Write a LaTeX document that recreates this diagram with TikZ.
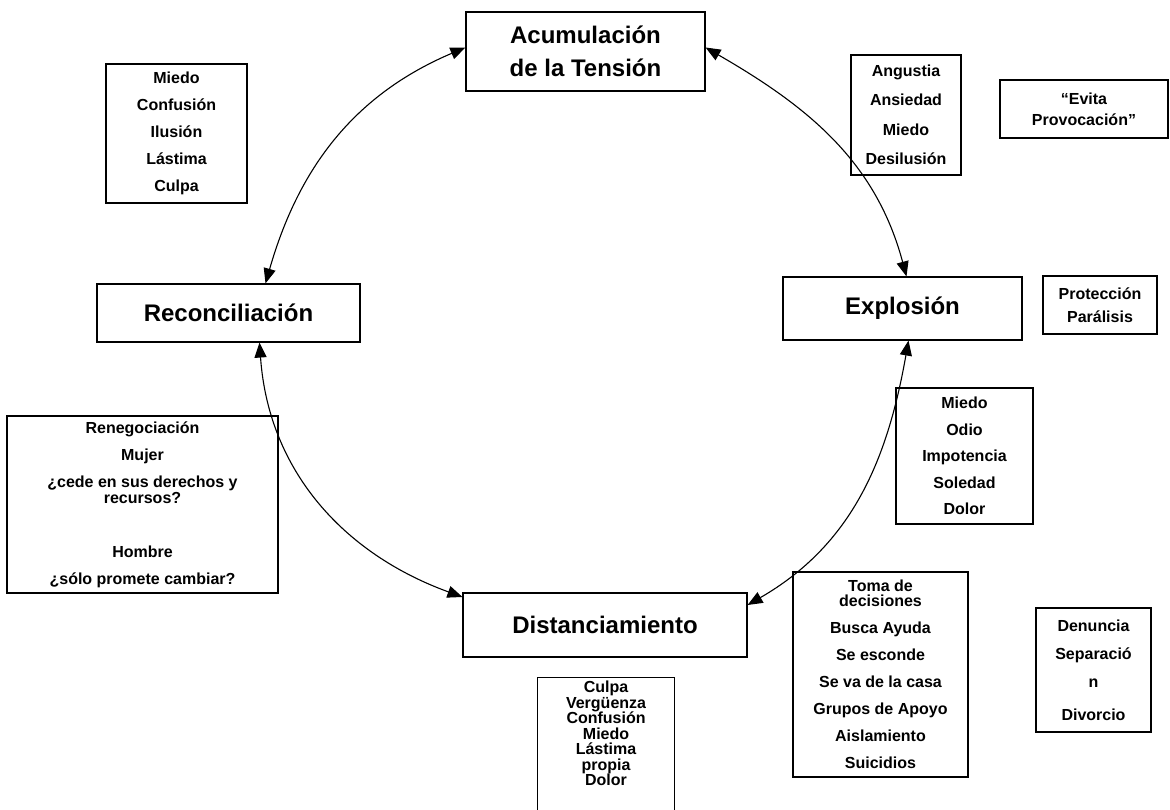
\documentclass[tikz,border=0pt]{standalone}
\usepackage{fontspec}
\setmainfont{Liberation Sans}
\usetikzlibrary{arrows.meta}
\begin{document}
\begin{tikzpicture}[x=1pt,y=-1pt,
  stage/.style={draw, line width=1.1pt, inner sep=2pt, align=center, font=\fontsize{24}{33}\selectfont\bfseries},
  note/.style={draw, line width=1.1pt, inner sep=2pt, align=center, font=\fontsize{16}{27}\selectfont\bfseries},
  cyc/.style={line width=1.1pt, {Triangle[length=15pt,width=12pt]}-{Triangle[length=15pt,width=12pt]}}]
\useasboundingbox (0,0) rectangle (1170,809);
\fill[white] (0,0) rectangle (1170,809);
\clip (0,0) rectangle (1170,809);

% stages
\node[stage, minimum width=239pt, minimum height=79pt] (acu) at (585.5,51.5) {Acumulación\\de la Tensión};
\node[stage, minimum width=263pt, minimum height=58pt] (rec) at (228.5,313) {Reconciliación};
\node[stage, minimum width=239pt, minimum height=63pt] (exp) at (902.5,308.5) {Explosión};
\node[stage, minimum width=284pt, minimum height=64pt] (dis) at (605,625) {Distanciamiento};

% notes
\node[note, minimum width=141pt, minimum height=139pt] (emo1) at (176.5,133.5) {Miedo\\Confusión\\Ilusión\\Lástima\\Culpa};
\node[note, minimum width=110pt, minimum height=120pt, font=\fontsize{16}{29.5}\selectfont\bfseries] (ang) at (906,115) {Angustia\\Ansiedad\\Miedo\\Desilusión};
\node[note, minimum width=168pt, minimum height=58pt, font=\fontsize{16}{21}\selectfont\bfseries] (evi) at (1084,109) {“Evita\\Provocación”};
\node[note, minimum width=114pt, minimum height=58pt, font=\fontsize{16}{23}\selectfont\bfseries] (pro) at (1100,305) {Protección\\Parálisis};
\node[note, minimum width=137pt, minimum height=136pt, font=\fontsize{16}{26.5}\selectfont\bfseries] (odi) at (964.5,456) {Miedo\\Odio\\Impotencia\\Soledad\\Dolor};
\node[note, minimum width=271pt, minimum height=177pt] (ren) at (142.5,504.5) {Renegociación\\Mujer\\¿cede en sus derechos y\\[-11pt]recursos?\\[27pt]Hombre\\¿sólo promete cambiar?};
\node[note, minimum width=175pt, minimum height=205pt] (tom) at (880.5,674.5) {Toma de\\[-12pt]decisiones\\Busca Ayuda\\Se esconde\\Se va de la casa\\Grupos de Apoyo\\Aislamiento\\Suicidios};
\node[note, minimum width=115pt, minimum height=124pt, font=\fontsize{16}{28}\selectfont\bfseries] (den) at (1093.5,670) {Denuncia\\Separació\\n\\[5pt]Divorcio};
\node[draw, line width=1.1pt, minimum width=137pt, minimum height=140pt, anchor=north west] (culb) at (537,677) {};
\node[anchor=north, align=center, inner sep=0pt, font=\fontsize{16}{15.5}\selectfont\bfseries] (cul) at ([yshift=-4pt]culb.north) {Culpa\\Vergüenza\\Confusión\\Miedo\\Lástima\\propia\\Dolor};

% cycle connectors
\draw[cyc] ([yshift=4pt]acu.west) to[out=203,in=74] ([xshift=37pt]rec.north);
\draw[cyc] ([yshift=4pt]acu.east) to[out=-30,in=105] ([xshift=4pt]exp.north);
\draw[cyc] ([xshift=6pt]exp.south) to[out=260,in=30] ([yshift=20pt]dis.east);
\draw[cyc] ([xshift=31pt]rec.south) to[out=274,in=160] ([yshift=28pt]dis.west);
\end{tikzpicture}
\end{document}
